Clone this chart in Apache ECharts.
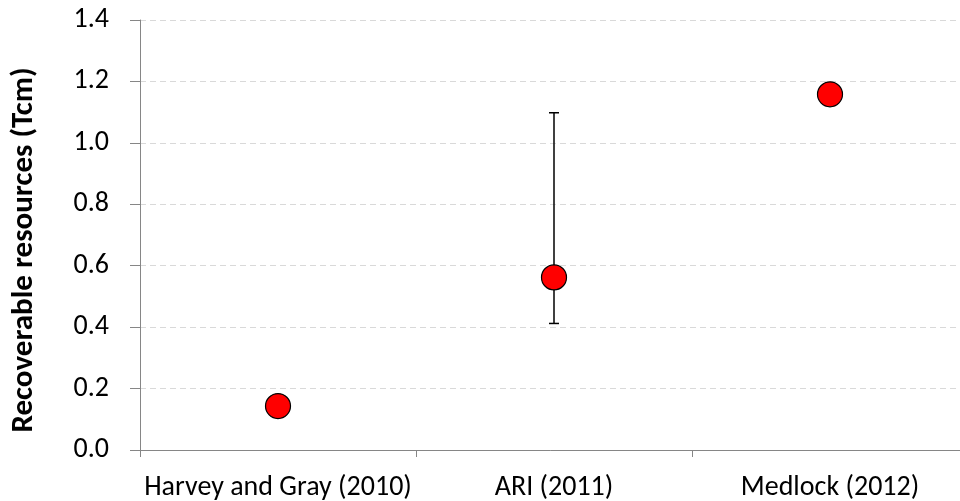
<!DOCTYPE html>
<html><head><meta charset="utf-8">
<script src="https://cdn.jsdelivr.net/npm/echarts@6/dist/echarts.min.js"></script>
<style>html,body{margin:0;padding:0;background:#fff}#c{width:960px;height:501px}</style>
</head><body><div id="c"></div>
<script>
const categories = ["Harvey and Gray (2010)", "ARI (2011)", "Medlock (2012)"];
const values = [0.143, 0.562, 1.158];
const errLow = [null, 0.412, null];
const errHigh = [null, 1.098, null];
const yTicks = [0, 0.2, 0.4, 0.6, 0.8, 1.0, 1.2, 1.4];

const errData = [];
categories.forEach((c, i) => { if (errLow[i] != null) errData.push([i, errLow[i], errHigh[i]]); });

const font = "Carlito, Calibri, 'Open Sans', 'Noto Sans', sans-serif";
const chart = echarts.init(document.getElementById('c'), null, {renderer: 'canvas'});
chart.setOption({
  animation: false,
  grid: {left: 140, top: 20, right: -8, bottom: 51, containLabel: false, outerBoundsMode: 'none'},
  xAxis: {
    type: 'category', data: categories, boundaryGap: true,
    axisLine: {lineStyle: {color: '#868686', width: 1}},
    axisTick: {show: true, length: 7, lineStyle: {color: '#868686'}, alignWithLabel: false},
    axisLabel: {color: '#000', fontSize: 28, fontFamily: font, margin: 24, interval: 0},
    splitLine: {show: false}
  },
  yAxis: {
    type: 'value', min: 0, max: 1.4, interval: 0.2,
    name: 'Recoverable resources (Tcm)', nameLocation: 'middle', nameGap: 100,
    nameTextStyle: {fontSize: 31, fontWeight: 'bold', color: '#000', fontFamily: font, padding: [0, 30, 0, 0]},
    axisLine: {show: true, lineStyle: {color: '#868686', width: 1}},
    axisTick: {show: true, length: 10, lineStyle: {color: '#868686'}},
    axisLabel: {color: '#000', fontSize: 28, fontFamily: font, margin: 31,
      formatter: v => v.toFixed(1)},
    splitLine: {show: true, lineStyle: {color: '#d9d9d9', type: [6, 4], width: 1}}
  },
  series: [
    {
      type: 'custom', data: errData, z: 1,
      renderItem: function (params, api) {
        const x = api.value(0);
        const lo = api.coord([x, api.value(1)]);
        const hi = api.coord([x, api.value(2)]);
        const hw = 5;
        const st = {stroke: '#000', lineWidth: 1.5};
        return {type: 'group', children: [
          {type: 'line', shape: {x1: lo[0], y1: lo[1], x2: hi[0], y2: hi[1]}, style: st},
          {type: 'line', shape: {x1: lo[0]-hw, y1: lo[1], x2: lo[0]+hw, y2: lo[1]}, style: st},
          {type: 'line', shape: {x1: hi[0]-hw, y1: hi[1], x2: hi[0]+hw, y2: hi[1]}, style: st}
        ]};
      }
    },
    {
      type: 'scatter', data: values, z: 3, symbol: 'circle', symbolSize: 25,
      itemStyle: {color: '#ff0000', borderColor: '#000', borderWidth: 1.2, opacity: 1}
    }
  ]
});
</script></body></html>
